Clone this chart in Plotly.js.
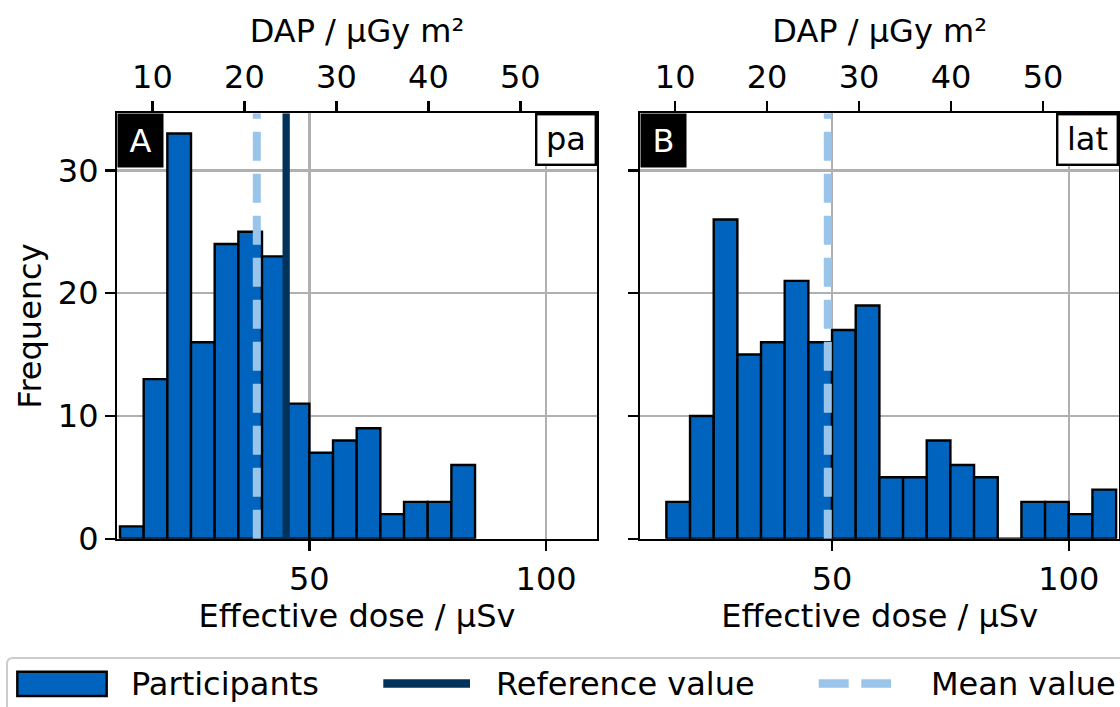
<!DOCTYPE html>
<html><head><meta charset="utf-8">
<script src="https://cdn.plot.ly/plotly-3.0.1.min.js"></script>
<style>html,body{margin:0;padding:0;background:#fff}#chart{width:1120px;height:707px}</style>
</head><body><div id="chart"></div>
<script>
// ---- data ----
const binWidth = 5;
const binStartA = [10,15,20,25,30,35,40,45,50,55,60,65,70,75,80];
const countsA   = [1,13,33,16,24,25,23,11,7,8,9,2,3,3,6];
const binStartB = [15,20,25,30,35,40,45,50,55,60,65,70,75,80,85,90,95,100,105];
const countsB   = [3,10,26,15,16,21,16,17,19,5,5,8,6,5,0,3,3,2,4];
const referenceA = 45.1;   // effective dose, µSv
const meanA = 38.9;
const meanB = 49.1;
const panelLabels = ['A','B'];
const projLabels = ['pa','lat'];
const legendLabels = ['Participants','Reference value','Mean value'];
const doseTicks = [50,100];
const dapTicks = [10,20,30,40,50];
const freqTicks = [0,10,20,30];

const doseRange = [9.43, 110.7];
const dapRange = [6.18, 58.3];
const freqRange = [0, 34.65];

const barColor = '#0064BE';
const refColor = '#00325A';
const meanColor = '#99C5EA';
const FONT = 'DejaVu Sans, sans-serif';
const FS = 32;
const W = 1120, H = 707;
const px = v => v / W;
const py = v => 1 - v / H;

function centers(starts){ return starts.map(s => s + binWidth/2); }

const traces = [
  {type:'bar', x:centers(binStartA), y:countsA, width:binWidth, name:legendLabels[0],
   marker:{color:barColor, line:{color:'#000', width:2.4}}, xaxis:'x', yaxis:'y'},
  {type:'bar', x:centers(binStartB), y:countsB, width:binWidth, name:legendLabels[0],
   marker:{color:barColor, line:{color:'#000', width:2.4}}, xaxis:'x3', yaxis:'y2'},
  {type:'scatter', mode:'lines', x:[referenceA, referenceA], y:freqRange, name:legendLabels[1],
   line:{color:refColor, width:7.3}, xaxis:'x', yaxis:'y'},
  {type:'scatter', mode:'lines', x:[meanA, meanA], y:freqRange, name:legendLabels[2],
   line:{color:meanColor, width:8, dash:'29px,13px'}, xaxis:'x', yaxis:'y'},
  {type:'scatter', mode:'lines', x:[meanB, meanB], y:freqRange, name:legendLabels[2],
   line:{color:meanColor, width:8, dash:'29px,13px'}, xaxis:'x3', yaxis:'y2'},
  // carriers so the secondary (top, DAP) axes are drawn
  {type:'scatter', mode:'none', x:dapRange, y:freqRange, xaxis:'x2', yaxis:'y', hoverinfo:'skip'},
  {type:'scatter', mode:'none', x:dapRange, y:freqRange, xaxis:'x4', yaxis:'y2', hoverinfo:'skip'}
];

const domA = [px(117.3), px(596.7)];
const domB = [px(640), px(1119.4)];
const domY = [py(538.7), py(113.3)];

const common = {showline:true, linecolor:'#000', linewidth:2.4, ticks:'outside', ticklen:10, tickwidth:2.4,
  tickcolor:'#000', zeroline:false, tickfont:{family:FONT, size:FS, color:'#000'}, automargin:false, fixedrange:true};

function bottomX(dom, anchor){
  return Object.assign({}, common, {domain:dom, anchor:anchor, range:doseRange, tickmode:'array', tickvals:doseTicks,
    showgrid:true, gridcolor:'#b0b0b0', gridwidth:2.4,
    title:{text:'Effective dose / µSv', font:{family:FONT, size:FS, color:'#000'}, standoff:3}});
}
function topX(over, anchor){
  return Object.assign({}, common, {overlaying:over, anchor:anchor, side:'top', range:dapRange, tickmode:'array',
    tickvals:dapTicks, showgrid:false,
    title:{text:'DAP / µGy m²', font:{family:FONT, size:FS, color:'#000'}, standoff:6}});
}
function yax(dom, anchor, labels){
  return Object.assign({}, common, {domain:dom, anchor:anchor, range:freqRange, tickmode:'array', tickvals:freqTicks,
    mirror:true, showgrid:true, gridcolor:'#b0b0b0', gridwidth:2.4, showticklabels:labels,
    title: labels ? {text:'Frequency', font:{family:FONT, size:FS, color:'#000'}, standoff:7} : {text:''}});
}

const boxFont = {family:FONT, size:FS};
const annotations = [
  {xref:'paper', yref:'paper', x:domA[0], y:domY[1], xanchor:'left', yanchor:'top', text:panelLabels[0], showarrow:false,
   bgcolor:'#000', font:Object.assign({color:'#fff'}, boxFont), width:45, height:53, borderpad:0},
  {xref:'paper', yref:'paper', x:domB[0], y:domY[1], xanchor:'left', yanchor:'top', text:panelLabels[1], showarrow:false,
   bgcolor:'#000', font:Object.assign({color:'#fff'}, boxFont), width:45, height:53, borderpad:0},
  {xref:'paper', yref:'paper', x:domA[1], y:domY[1], xanchor:'right', yanchor:'top', text:projLabels[0], showarrow:false,
   bgcolor:'#fff', bordercolor:'#000', borderwidth:2.4, font:Object.assign({color:'#000'}, boxFont), width:57, height:48, borderpad:0},
  {xref:'paper', yref:'paper', x:domB[1], y:domY[1], xanchor:'right', yanchor:'top', text:projLabels[1], showarrow:false,
   bgcolor:'#fff', bordercolor:'#000', borderwidth:2.4, font:Object.assign({color:'#000'}, boxFont), width:58, height:48, borderpad:0}
];

// ---- legend (drawn as a frame with swatches and labels) ----
const legY = 683.5;
const legTextX = [130, 495, 930];
legendLabels.forEach((t, i) => annotations.push({xref:'paper', yref:'paper', x:px(legTextX[i]), y:py(legY),
  xanchor:'left', yanchor:'middle', text:t, showarrow:false, font:{family:FONT, size:FS, color:'#000'}, borderpad:0}));

const r = 6, L = 7, T = 658, R = 1140, B = 730;
const framePath = `M${px(L+r)},${py(T)} L${px(R)},${py(T)} L${px(R)},${py(B)} L${px(L)},${py(B)} L${px(L)},${py(T+r)} Q${px(L)},${py(T)} ${px(L+r)},${py(T)} Z`;
const shapes = [
  {type:'path', xref:'paper', yref:'paper', path:framePath, line:{color:'#cccccc', width:2}, fillcolor:'rgba(255,255,255,0.85)', layer:'above'},
  {type:'rect', xref:'paper', yref:'paper', x0:px(17.3), x1:px(106.7), y0:py(696), y1:py(671.7),
   fillcolor:barColor, line:{color:'#000', width:2.4}, layer:'above'},
  {type:'line', xref:'paper', yref:'paper', x0:px(383.3), x1:px(470), y0:py(legY), y1:py(legY),
   line:{color:refColor, width:8.3}, layer:'above'},
  {type:'line', xref:'paper', yref:'paper', x0:px(818.7), x1:px(891), y0:py(legY), y1:py(legY),
   line:{color:meanColor, width:8.3, dash:'30px,12.6px'}, layer:'above'}
];

const layout = {
  width:W, height:H, margin:{l:0, r:0, t:0, b:0}, paper_bgcolor:'#fff', plot_bgcolor:'#fff',
  font:{family:FONT, size:FS, color:'#000'},
  barmode:'overlay', bargap:0, showlegend:false,
  xaxis: bottomX(domA, 'y'),
  xaxis2: topX('x', 'y'),
  xaxis3: bottomX(domB, 'y2'),
  xaxis4: topX('x3', 'y2'),
  yaxis: yax(domY, 'x', true),
  yaxis2: yax(domY, 'x3', false),
  annotations: annotations,
  shapes: shapes
};

Plotly.newPlot('chart', traces, layout, {staticPlot:true});
</script></body></html>
